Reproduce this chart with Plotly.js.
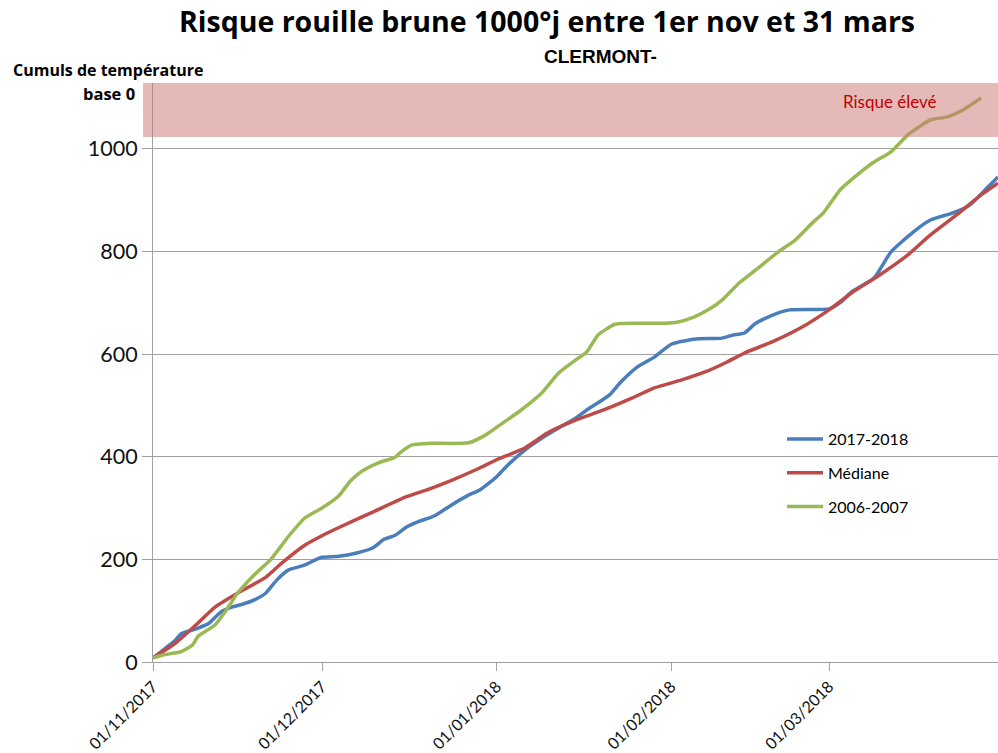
<!DOCTYPE html>
<html>
<head>
<meta charset="utf-8">
<script src="https://cdn.plot.ly/plotly-3.0.1.min.js"></script>
<style>html,body{margin:0;padding:0;background:#fff;}#chart{width:998px;height:753px;}</style>
</head>
<body>
<div id="chart"></div>
<script>
// ---- data ----
const seriesNames = ["2017-2018", "Médiane", "2006-2007"];

const datesBlue = ["2017-11-01","2017-11-05","2017-11-06","2017-11-09","2017-11-11","2017-11-13","2017-11-15","2017-11-17","2017-11-19","2017-11-21","2017-11-23","2017-11-25","2017-11-28","2017-11-30","2017-12-01","2017-12-04","2017-12-07","2017-12-10","2017-12-12","2017-12-14","2017-12-16","2017-12-18","2017-12-21","2017-12-24","2017-12-27","2017-12-29","2018-01-01","2018-01-03","2018-01-06","2018-01-09","2018-01-12","2018-01-15","2018-01-17","2018-01-21","2018-01-23","2018-01-26","2018-01-29","2018-02-01","2018-02-05","2018-02-10","2018-02-12","2018-02-14","2018-02-16","2018-02-19","2018-02-22","2018-03-01","2018-03-03","2018-03-05","2018-03-09","2018-03-12","2018-03-16","2018-03-19","2018-03-23","2018-03-26","2018-03-29","2018-03-31"];
const valuesBlue = [8,43,55,66,76,97,107,113,121,134,160,179,189,200,204,206,212,222,239,247,263,273,285,306,325,335,361,384,413,436,456,475,491,520,545,575,594,619,629,631,637,641,660,676,686,688,700,721,748,799,838,861,875,890,923,945];

const datesRed = ["2017-11-01","2017-11-05","2017-11-09","2017-11-12","2017-11-16","2017-11-21","2017-11-24","2017-11-28","2017-12-01","2017-12-04","2017-12-10","2017-12-16","2017-12-20","2017-12-24","2017-12-29","2018-01-01","2018-01-06","2018-01-10","2018-01-15","2018-01-20","2018-01-25","2018-01-29","2018-02-03","2018-02-07","2018-02-11","2018-02-14","2018-02-19","2018-02-24","2018-03-01","2018-03-05","2018-03-10","2018-03-15","2018-03-19","2018-03-24","2018-03-28","2018-03-31"];
const valuesRed = [8,37,76,107,134,165,194,228,246,262,292,322,337,354,378,394,417,446,471,491,514,534,550,565,585,602,624,651,686,719,754,793,832,874,910,933];

const datesGreen = ["2017-11-01","2017-11-03","2017-11-06","2017-11-08","2017-11-09","2017-11-12","2017-11-14","2017-11-16","2017-11-19","2017-11-22","2017-11-25","2017-11-28","2017-12-01","2017-12-04","2017-12-06","2017-12-08","2017-12-11","2017-12-14","2017-12-15","2017-12-17","2017-12-20","2017-12-27","2017-12-30","2018-01-02","2018-01-05","2018-01-09","2018-01-12","2018-01-15","2018-01-17","2018-01-19","2018-01-22","2018-01-26","2018-01-31","2018-02-02","2018-02-05","2018-02-08","2018-02-10","2018-02-13","2018-02-16","2018-02-20","2018-02-23","2018-02-26","2018-02-28","2018-03-03","2018-03-06","2018-03-09","2018-03-12","2018-03-15","2018-03-19","2018-03-22","2018-03-25","2018-03-28"];
const valuesGreen = [8,14,20,33,50,72,101,134,170,201,244,281,300,324,352,371,388,399,409,423,426,427,442,465,488,524,563,588,604,637,658,660,660,662,672,689,705,738,764,799,822,855,875,920,949,974,994,1027,1056,1062,1077,1099];

const tickDates = ["2017-11-01","2017-12-01","2018-01-01","2018-02-01","2018-03-01"];
const tickLabels = ["01/11/2017","01/12/2017","01/01/2018","01/02/2018","01/03/2018"];
const yTicks = [0,200,400,600,800,1000];
const riskBand = [1023, 1128];

// ---- chart ----
const colors = ["#4A7EBB", "#BE4B48", "#98B954"];
const xs = [datesBlue, datesRed, datesGreen];
const ys = [valuesBlue, valuesRed, valuesGreen];

const traces = seriesNames.map((n, i) => ({
  x: xs[i], y: ys[i], name: n, type: "scatter", mode: "lines",
  legendgroup: "g" + i,
  line: {color: colors[i], width: 3.5, shape: "spline", smoothing: 0.5}
}));

const W = 998, H = 753, L = 153, R = 0, T = 83, B = 91;
const pw = W - L - R, ph = H - T - B;
const px = v => (v - L) / pw;
const py = v => (H - B - v) / ph;

const layout = {
  width: W, height: H,
  margin: {l: L, r: R, t: T, b: B, pad: 0},
  paper_bgcolor: "#fff", plot_bgcolor: "#fff",
  title: {
    text: "<b>Risque rouille brune 1000°j entre 1er nov et 31 mars</b>",
    x: 547 / W, xanchor: "center", xref: "container",
    y: 1 - 22 / H, yanchor: "middle", yref: "container",
    font: {family: "'Open Sans', Lato, sans-serif", size: 28.5, color: "#000"}
  },
  showlegend: true,
  legend: {
    x: px(782), y: py(422), xanchor: "left", yanchor: "top",
    bgcolor: "rgba(0,0,0,0)", traceorder: "grouped", tracegroupgap: 10,
    itemwidth: 36,
    font: {family: "Lato, sans-serif", size: 16, color: "#000"}
  },
  xaxis: {
    type: "date",
    range: ["2017-11-01", "2018-03-31"],
    tickmode: "array", tickvals: tickDates, ticktext: tickLabels,
    tickangle: -45,
    ticks: "outside", ticklen: 8, tickcolor: "#A0A0A0", tickwidth: 1,
    showgrid: false, zeroline: false,
    showline: true, linecolor: "#A0A0A0", linewidth: 1,
    tickfont: {family: "Lato, sans-serif", size: 16, color: "#111"}
  },
  yaxis: {
    range: [0, 1128],
    tickmode: "array", tickvals: yTicks,
    ticks: "outside", ticklen: 10, tickcolor: "#A0A0A0", tickwidth: 1,
    showgrid: true, gridcolor: "#A0A0A0", gridwidth: 1,
    zeroline: false,
    showline: true, linecolor: "#A0A0A0", linewidth: 1,
    tickfont: {family: "Lato, sans-serif", size: 21.5, color: "#111"}
  },
  shapes: [{
    type: "rect", layer: "above",
    xref: "paper", x0: px(143), x1: 1,
    yref: "y", y0: riskBand[0], y1: riskBand[1],
    fillcolor: "rgb(204,116,114)", opacity: 0.5, line: {width: 0}
  }],
  annotations: [
    {text: "<b>CLERMONT-</b>", xref: "paper", yref: "paper", x: px(600), y: py(57),
     xanchor: "center", yanchor: "middle", showarrow: false,
     font: {family: "'Liberation Sans', Arial, sans-serif", size: 19, color: "#000"}},
    {text: "<b>Cumuls de température</b>", xref: "paper", yref: "paper", x: px(11), y: py(70),
     xanchor: "left", yanchor: "middle", showarrow: false,
     font: {family: "'Open Sans', Lato, sans-serif", size: 16, color: "#000"}},
    {text: "<b>base 0</b>", xref: "paper", yref: "paper", x: px(137), y: py(93),
     xanchor: "right", yanchor: "middle", showarrow: false,
     font: {family: "'Open Sans', Lato, sans-serif", size: 16.5, color: "#000"}},
    {text: "Risque élevé", xref: "paper", yref: "paper", x: px(890), y: py(102),
     xanchor: "center", yanchor: "middle", showarrow: false,
     font: {family: "Lato, sans-serif", size: 17, color: "#C00000"}}
  ]
};

Plotly.newPlot("chart", traces, layout, {displayModeBar: false, staticPlot: true});
</script>
</body>
</html>
